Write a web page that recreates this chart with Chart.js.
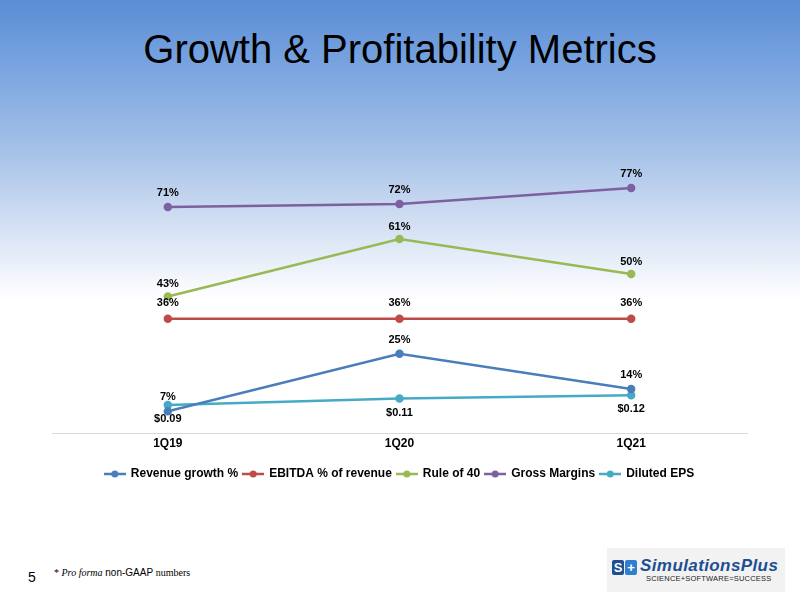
<!DOCTYPE html>
<html>
<head>
<meta charset="utf-8">
<script src="https://cdn.jsdelivr.net/npm/chart.js@4"></script>
<style>
  html, body { margin: 0; padding: 0; }
  body {
    width: 800px; height: 599px; position: relative; overflow: hidden;
    background: linear-gradient(to bottom, #5a8dd5 0px, #7ba5e0 70px, #a5c1e8 150px, #d3e0f3 225px, #f4f7fc 280px, #ffffff 300px);
    font-family: "Liberation Sans", Arial, sans-serif;
  }
  #title {
    position: absolute; left: 0; top: 29px; width: 800px; text-align: center;
    font-size: 40px; line-height: 40px; color: #000;
  }
  #chartBox { position: absolute; left: 0; top: 131.5px; width: 800px; height: 360px; }
  #pageNum { position: absolute; left: 28px; top: 569px; font-size: 14px; color: #000; }
  #note { position: absolute; left: 54px; top: 567px; font-size: 10px; color: #000; }
  #note .tm { font-family: "Liberation Serif", "Times New Roman", serif; }
  #logo {
    position: absolute; left: 607px; top: 548px; width: 178px; height: 44px; background: #f2f2f2;
  }
  .sq { position: absolute; top: 12px; width: 12px; height: 15px; border-radius: 2px; color: #fff;
        font-weight: bold; font-size: 13px; line-height: 15px; text-align: center; }
  #logo .name { position: absolute; left: 33px; top: 8px; font-size: 17px; line-height: 20px; font-weight: bold; font-style: italic;
        color: #1d4f91; letter-spacing: 0.4px; }
  #logo .tag { position: absolute; left: 39px; top: 26px; font-size: 7.5px; color: #222; letter-spacing: 0.2px; }
</style>
</head>
<body>
<div id="title">Growth &amp; Profitability Metrics</div>
<div id="chartBox"><canvas id="graphCanvas"></canvas></div>
<div id="pageNum">5</div>
<div id="note"><span class="tm">* <i>Pro forma</i></span> non-GAAP <span class="tm">numbers</span></div>
<div id="logo">
  <div class="sq" style="left:5px;background:#1d4f91;">S</div>
  <div class="sq" style="left:18px;background:#2f7fd1;">+</div>
  <div class="name">SimulationsPlus</div>
  <div class="tag">SCIENCE+SOFTWARE=SUCCESS</div>
</div>
<script>
var quarters = ['1Q19', '1Q20', '1Q21'];
var revenueGrowth = [7, 25, 14];
var ebitdaPct = [36, 36, 36];
var ruleOf40 = [43, 61, 50];
var grossMargins = [71, 72, 77];
var dilutedEps = [0.09, 0.11, 0.12];

function pctLabel(v) { return v + '%'; }
function epsLabel(v) { return '$' + v.toFixed(2); }

function legendMarker(color) {
    var c = document.createElement('canvas');
    c.width = 22; c.height = 8;
    var g = c.getContext('2d');
    g.strokeStyle = color; g.lineWidth = 2.5;
    g.beginPath(); g.moveTo(0, 4); g.lineTo(22, 4); g.stroke();
    g.fillStyle = color;
    g.beginPath(); g.arc(11, 4, 3.5, 0, Math.PI * 2); g.fill();
    return c;
}

function makeSet(label, data, color, axis, offset, fmt) {
    return {
        label: label,
        data: data,
        yAxisID: axis,
        borderColor: color,
        backgroundColor: color,
        pointBackgroundColor: color,
        pointBorderColor: color,
        borderWidth: 2.5,
        pointRadius: 3,
        tension: 0,
        fill: false,
        labelOffset: offset,
        labelFormat: fmt
    };
}

var chartdata = {
    labels: quarters,
    datasets: [
        makeSet('Revenue growth %', revenueGrowth, '#4a7ebb', 'y', -14, pctLabel),
        makeSet('EBITDA % of revenue', ebitdaPct, '#be4b48', 'y', -16, pctLabel),
        makeSet('Rule of 40', ruleOf40, '#98b954', 'y', -12, pctLabel),
        makeSet('Gross Margins', grossMargins, '#7d60a0', 'y', -14, pctLabel),
        makeSet('Diluted EPS', dilutedEps, '#46aac5', 'y2', 14, epsLabel)
    ]
};

// value labels next to each point
var pointLabels = {
    id: 'pointLabels',
    afterDatasetsDraw: function(chart) {
        var ctx = chart.ctx;
        ctx.save();
        ctx.font = 'bold 11px "Liberation Sans", Arial, sans-serif';
        ctx.fillStyle = '#000';
        ctx.textAlign = 'center';
        ctx.textBaseline = 'middle';
        chart.data.datasets.forEach(function(ds, i) {
            var meta = chart.getDatasetMeta(i);
            meta.data.forEach(function(pt, j) {
                ctx.fillText(ds.labelFormat(ds.data[j]), pt.x, pt.y + ds.labelOffset);
            });
        });
        ctx.restore();
    }
};

var graphTarget = document.getElementById('graphCanvas');

var lineGraph = new Chart(graphTarget, {
    type: 'line',
    data: chartdata,
    plugins: [pointLabels],
    options: {
        responsive: true,
        maintainAspectRatio: false,
        animation: false,
        layout: { padding: { left: 52, right: 53, top: 14.5, bottom: 2 } },
        plugins: {
            tooltip: { enabled: false },
            legend: {
                position: 'bottom',
                labels: {
                    usePointStyle: true,
                    pointStyleWidth: 20,
                    padding: 5,
                    color: '#000',
                    font: { family: '"Liberation Sans", Arial, sans-serif', size: 12, weight: 'bold' },
                    generateLabels: function(chart) {
                        var items = Chart.defaults.plugins.legend.labels.generateLabels(chart);
                        items.forEach(function(it) {
                            it.pointStyle = legendMarker(chart.data.datasets[it.datasetIndex].borderColor);
                        });
                        return items;
                    }
                }
            }
        },
        scales: {
            x: {
                offset: true,
                grid: { display: false, drawTicks: false },
                border: { display: true, color: '#d9d9d9', width: 1 },
                ticks: {
                    color: '#000',
                    padding: 3,
                    font: { family: '"Liberation Sans", Arial, sans-serif', size: 12, weight: 'bold' }
                },
                afterFit: function(scale) { scale.height += 9; }
            },
            y: { display: false, min: 0, max: 90 },
            y2: { display: false, min: 0, max: 0.9 }
        }
    }
});
</script>
</body>
</html>
